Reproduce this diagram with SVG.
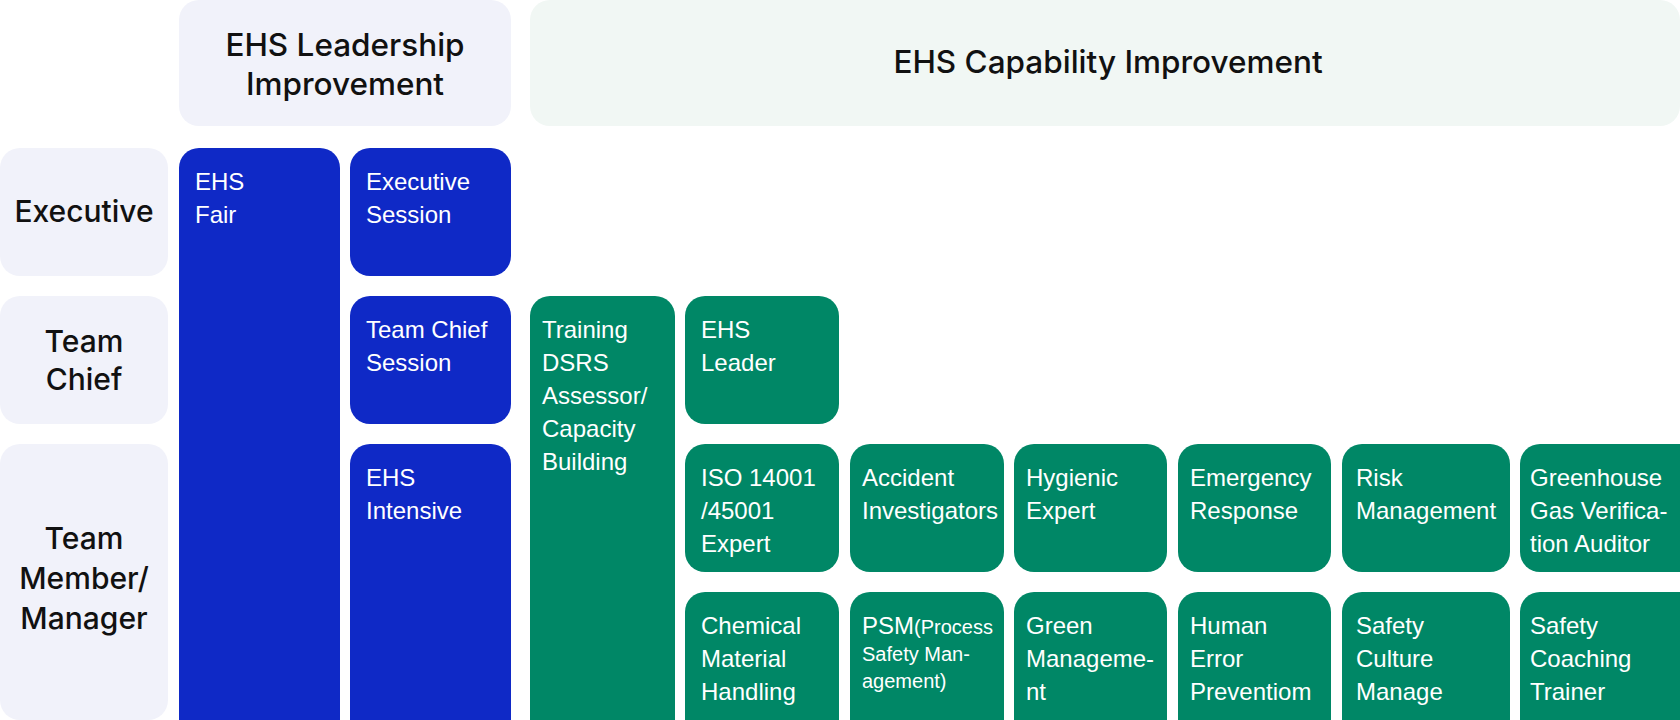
<svg xmlns="http://www.w3.org/2000/svg" width="1680" height="720" viewBox="0 0 1680 720">
<style>
.hdr{fill:#F1F2FA}
.hdr2{fill:#F1F7F4}
.blue{fill:#0F29C6}
.green{fill:#008766}
.ht{font-family:Inter,"Liberation Sans",sans-serif;font-weight:500;font-size:30px;fill:#111;text-anchor:middle}
.big{font-size:31.5px}
.nt{font-family:"Liberation Sans",Arial,sans-serif;font-size:24px;fill:#fff}
.st{font-size:20px}
</style>
<rect width="1680" height="720" fill="#fff"/>
<g id="hdr-leadership">
<rect class="hdr" x="179" y="0" width="332" height="126" rx="20"/>
<text class="ht big" x="345" y="56">EHS Leadership</text>
<text class="ht big" x="345" y="95">Improvement</text>
</g>
<g id="hdr-capability">
<rect class="hdr2" x="530" y="0" width="1150" height="126" rx="20"/>
<text class="ht big" x="1108" y="73">EHS Capability Improvement</text>
</g>
<g id="row-executive">
<rect class="hdr" x="0" y="148" width="168" height="128" rx="20"/>
<text class="ht" x="84" y="222">Executive</text>
</g>
<g id="row-teamchief">
<rect class="hdr" x="0" y="296" width="168" height="128" rx="20"/>
<text class="ht" x="84" y="352">Team</text>
<text class="ht" x="84" y="390">Chief</text>
</g>
<g id="row-member">
<rect class="hdr" x="0" y="444" width="168" height="276" rx="20"/>
<text class="ht" x="84" y="549">Team</text>
<text class="ht" x="84" y="589">Member/</text>
<text class="ht" x="84" y="629">Manager</text>
</g>
<g id="ehs-fair">
<rect class="blue" x="179" y="148" width="161" height="600" rx="20"/>
<text class="nt" x="195" y="190">EHS</text>
<text class="nt" x="195" y="223">Fair</text>
</g>
<g id="exec-session">
<rect class="blue" x="350" y="148" width="161" height="128" rx="20"/>
<text class="nt" x="366" y="190">Executive</text>
<text class="nt" x="366" y="223">Session</text>
</g>
<g id="teamchief-session">
<rect class="blue" x="350" y="296" width="161" height="128" rx="20"/>
<text class="nt" x="366" y="338">Team Chief</text>
<text class="nt" x="366" y="371">Session</text>
</g>
<g id="ehs-intensive">
<rect class="blue" x="350" y="444" width="161" height="304" rx="20"/>
<text class="nt" x="366" y="486">EHS</text>
<text class="nt" x="366" y="519">Intensive</text>
</g>
<g id="training">
<rect class="green" x="530" y="296" width="145" height="452" rx="20"/>
<text class="nt" x="542" y="338">Training</text>
<text class="nt" x="542" y="371">DSRS</text>
<text class="nt" x="542" y="404">Assessor/</text>
<text class="nt" x="542" y="437">Capacity</text>
<text class="nt" x="542" y="470">Building</text>
</g>
<g id="ehs-leader">
<rect class="green" x="685" y="296" width="154" height="128" rx="20"/>
<text class="nt" x="701" y="338">EHS</text>
<text class="nt" x="701" y="371">Leader</text>
</g>
<g id="iso">
<rect class="green" x="685" y="444" width="154" height="128" rx="20"/>
<text class="nt" x="701" y="486">ISO 14001</text>
<text class="nt" x="701" y="519">/45001</text>
<text class="nt" x="701" y="552">Expert</text>
</g>
<g id="accident">
<rect class="green" x="850" y="444" width="154" height="128" rx="20"/>
<text class="nt" x="862" y="486">Accident</text>
<text class="nt" x="862" y="519">Investigators</text>
</g>
<g id="hygienic">
<rect class="green" x="1014" y="444" width="153" height="128" rx="20"/>
<text class="nt" x="1026" y="486">Hygienic</text>
<text class="nt" x="1026" y="519">Expert</text>
</g>
<g id="emergency">
<rect class="green" x="1178" y="444" width="153" height="128" rx="20"/>
<text class="nt" x="1190" y="486">Emergency</text>
<text class="nt" x="1190" y="519">Response</text>
</g>
<g id="risk">
<rect class="green" x="1342" y="444" width="168" height="128" rx="20"/>
<text class="nt" x="1356" y="486">Risk</text>
<text class="nt" x="1356" y="519">Management</text>
</g>
<g id="greenhouse">
<rect class="green" x="1520" y="444" width="180" height="128" rx="20"/>
<text class="nt" x="1530" y="486">Greenhouse</text>
<text class="nt" x="1530" y="519">Gas Verifica-</text>
<text class="nt" x="1530" y="552">tion Auditor</text>
</g>
<g id="chemical">
<rect class="green" x="685" y="592" width="154" height="156" rx="20"/>
<text class="nt" x="701" y="634">Chemical</text>
<text class="nt" x="701" y="667">Material</text>
<text class="nt" x="701" y="700">Handling</text>
</g>
<g id="psm">
<rect class="green" x="850" y="592" width="154" height="156" rx="20"/>
<text class="nt" x="862" y="634">PSM<tspan class="st">(Process</tspan></text>
<text class="nt st" x="862" y="661">Safety Man-</text>
<text class="nt st" x="862" y="688">agement)</text>
</g>
<g id="green-mgmt">
<rect class="green" x="1014" y="592" width="153" height="156" rx="20"/>
<text class="nt" x="1026" y="634">Green</text>
<text class="nt" x="1026" y="667">Manageme-</text>
<text class="nt" x="1026" y="700">nt</text>
</g>
<g id="human-error">
<rect class="green" x="1178" y="592" width="153" height="156" rx="20"/>
<text class="nt" x="1190" y="634">Human</text>
<text class="nt" x="1190" y="667">Error</text>
<text class="nt" x="1190" y="700">Preventiom</text>
</g>
<g id="safety-culture">
<rect class="green" x="1342" y="592" width="168" height="156" rx="20"/>
<text class="nt" x="1356" y="634">Safety</text>
<text class="nt" x="1356" y="667">Culture</text>
<text class="nt" x="1356" y="700">Manage</text>
</g>
<g id="safety-coaching">
<rect class="green" x="1520" y="592" width="180" height="156" rx="20"/>
<text class="nt" x="1530" y="634">Safety</text>
<text class="nt" x="1530" y="667">Coaching</text>
<text class="nt" x="1530" y="700">Trainer</text>
</g>
<g id="connectors"></g>
</svg>
